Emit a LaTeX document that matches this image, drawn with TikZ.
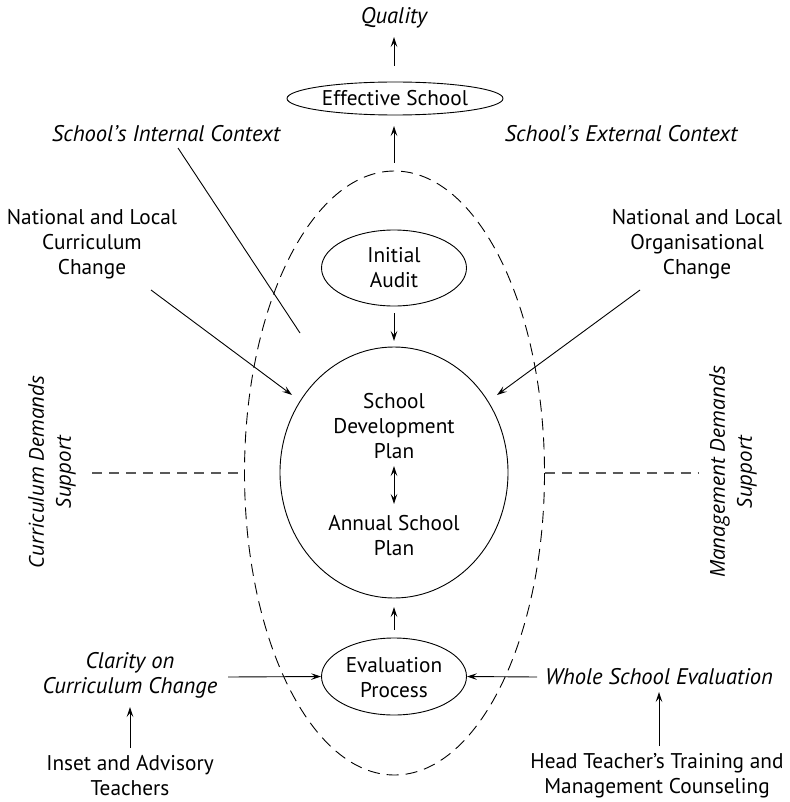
\documentclass[tikz,border=0pt]{standalone}
\usepackage{fontspec}
\setmainfont{PT Sans}
\newfontfamily\sidefont{Open Sans}
\usetikzlibrary{arrows.meta,shapes.geometric}
\begin{document}
\begin{tikzpicture}[x=1pt,y=-1pt,
  every node/.style={font=\fontsize{21.3}{25}\selectfont, align=center, inner sep=0pt},
  ilbl/.style={font=\fontsize{22.6}{25}\selectfont\itshape},
  side/.style={font=\fontsize{20.6}{27}\selectfont\sidefont\itshape, rotate=90},
  oval/.style={draw, ellipse, line width=0.9pt},
  arr/.style={line width=0.9pt, -{Stealth[length=10pt,width=6.5pt,inset=4pt]}},
  darr/.style={line width=0.9pt, {Stealth[length=10pt,width=6.5pt,inset=4pt]}-{Stealth[length=10pt,width=6.5pt,inset=4pt]}},
  thin/.style={line width=0.9pt},
  guide/.style={black!65, line width=1.4pt, dash pattern=on 10pt off 7pt}]
\useasboundingbox (0,0) rectangle (789,802);

% outer dashed boundary of the school
\draw[line width=0.9pt, dash pattern=on 12pt off 7pt] (394.5,473) ellipse [x radius=150, y radius=302];
\coordinate (bndL) at (244.5,473);
\coordinate (bndR) at (544.5,473);

% central ovals
\node[oval, minimum width=216, minimum height=33] (eff) at (395,98.5) {Effective School};
\node[oval, minimum width=145, minimum height=76] (audit) at (394,268) {};
\node (auditT) at (394,268) {Initial\\Audit};
\node[oval, minimum width=228, minimum height=251] (plan) at (394,472.5) {};
\node (sdp) at (394,426) {School\\Development\\Plan};
\node (asp) at (394,536) {Annual School\\Plan};
\node[oval, minimum width=145, minimum height=77] (eval) at (394,676.5) {};
\node (evalT) at (394,678) {Evaluation\\Process};

% top labels
\node[ilbl] (quality) at (394,18) {Quality};
\node[ilbl] (internal) at (166,134) {School's Internal Context};
\node[ilbl] (external) at (621,134) {School's External Context};

% outer influences
\node (natcur) at (92,244) {National and Local\\Curriculum\\Change};
\node (natorg) at (697,244) {National and Local\\Organisational\\Change};
\node[ilbl] (clarity) at (130,675.5) {Clarity on\\Curriculum Change};
\node[ilbl] (wse) at (659,677) {Whole School Evaluation};
\node (inset) at (130,776) {Inset and Advisory\\Teachers};
\node (headt) at (657,776) {Head Teacher's Training and\\Management Counseling};

% side support labels
\node[side] (cursup) at (52,472) {Curriculum Demands\\Support};
\node[side] (mansup) at (733,472) {Management Demands\\Support};

% connectors
\coordinate (qbase) at (394,66);
\coordinate (qtip) at (394,37);
\draw[arr] (qbase) -- (qtip);
\coordinate (ebase) at (394,163);
\coordinate (etip) at (394,126);
\draw[arr] (ebase) -- (etip);
\draw[arr] (audit.south) ++(0,7) coordinate (abase) -- (394,341) coordinate (atip);
\draw[darr] (394,466) coordinate (dtop) -- (394,504) coordinate (dbot);
\draw[arr] (eval.north) ++(0,-8) coordinate (vbase) -- (394,607) coordinate (vtip);

\coordinate (ncA) at (151,290);
\coordinate (ncB) at (292,395);
\draw[arr] (ncA) -- (ncB);
\coordinate (noA) at (640,290);
\coordinate (noB) at (497,395);
\draw[arr] (noA) -- (noB);
\coordinate (icA) at (178,148);
\coordinate (icB) at (300,333);
\draw[thin] (icA) -- (icB);

\coordinate (clA) at (228,677);
\draw[arr] (clA) -- (eval.west);
\coordinate (wsA) at (537,677);
\draw[arr] (wsA) -- (eval.east);
\coordinate (inA) at (130,748);
\coordinate (inB) at (130,707);
\draw[arr] (inA) -- (inB);
\coordinate (htA) at (659,746);
\coordinate (htB) at (659,692);
\draw[arr] (htA) -- (htB);

% dashed support guides
\coordinate (glA) at (92,473);
\draw[guide] (glA) -- (bndL);
\coordinate (grB) at (698,473);
\draw[guide] (bndR) -- (grB);
\end{tikzpicture}
\end{document}
